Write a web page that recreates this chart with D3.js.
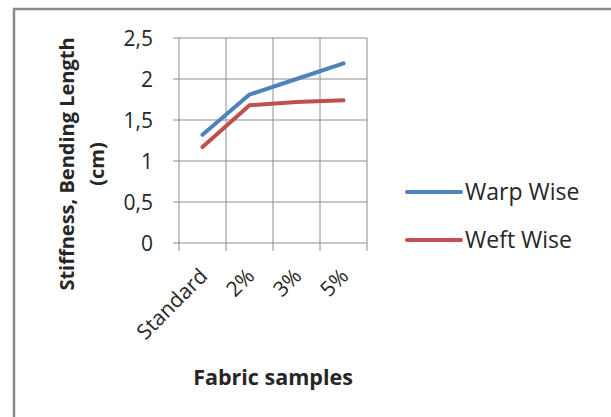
<!DOCTYPE html>
<html><head><meta charset="utf-8">
<script src="https://cdn.jsdelivr.net/npm/d3@7"></script>
<style>
html,body{margin:0;padding:0;background:#fff;}
svg{display:block;}
text{font-family:"Open Sans","Noto Sans",sans-serif;fill:#262626;}
</style></head>
<body>
<svg id="c" width="611" height="417"></svg>
<script>
const categories = ["Standard", "2%", "3%", "5%"];
const warpWise = [1.32, 1.81, 2.0, 2.19];
const weftWise = [1.17, 1.68, 1.72, 1.74];
const yTicks = [0, 0.5, 1, 1.5, 2, 2.5];
const yTickLabels = ["0", "0,5", "1", "1,5", "2", "2,5"];
const seriesNames = ["Warp Wise", "Weft Wise"];
const seriesColors = ["#4F81BD", "#C0504D"];

(function(){
const svg = d3.select("#c");
svg.append("path").attr("d","M14,418 L14,9 L612,9").attr("fill","none")
  .attr("stroke","#8a8a8a").attr("stroke-width",2.5);

const pL=179, pR=367, pT=38, pB=243;
const x = d3.scaleBand().domain(categories).range([pL,pR]);
const y = d3.scaleLinear().domain([0,2.5]).range([pB,pT]);

const g = svg.append("g");
g.selectAll("line.hg").data(yTicks).join("line")
  .attr("x1",pL-6).attr("x2",pR).attr("y1",d=>y(d)).attr("y2",d=>y(d))
  .attr("stroke","#8c8c8c").attr("stroke-width",1);
const edges = categories.map(c=>x(c)).concat([pR]);
g.selectAll("line.vg").data(edges).join("line")
  .attr("x1",d=>d).attr("x2",d=>d).attr("y1",pT).attr("y2",pB+8)
  .attr("stroke","#8c8c8c").attr("stroke-width",1);

g.selectAll("text.yt").data(yTicks).join("text")
  .attr("x",153).attr("y",d=>y(d)).attr("dy","0.36em")
  .attr("text-anchor","end").style("font-size","21px")
  .text((d,i)=>yTickLabels[i]);

g.selectAll("text.xt").data(categories).join("text")
  .attr("transform",d=>`translate(${x(d)+x.bandwidth()/2+1},${pB+29}) rotate(-45)`)
  .attr("text-anchor","end").attr("dy","0.36em").style("font-size","21px")
  .text(d=>d);

const line = d3.line().x((d,i)=>x(categories[i])+x.bandwidth()/2).y(d=>y(d));
[warpWise, weftWise].forEach((s,k)=>{
  g.append("path").datum(s).attr("d",line).attr("fill","none")
   .attr("stroke",seriesColors[k]).attr("stroke-width",4)
   .attr("stroke-linejoin","round").attr("stroke-linecap","round");
});

const yt = svg.append("text").attr("transform","translate(74,164) rotate(-90)")
  .attr("text-anchor","middle").style("font-size","20px").style("font-weight","bold");
yt.append("tspan").attr("x",0).attr("dy",0).text("Stiffness, Bending Length");
yt.append("tspan").attr("x",0).attr("dy","30px").text("(cm)");

svg.append("text").attr("x",273).attr("y",385).attr("text-anchor","middle")
  .style("font-size","21.5px").style("font-weight","bold").text("Fabric samples");

const lg = svg.append("g");
seriesNames.forEach((n,i)=>{
  const ly = 192 + i*48;
  lg.append("line").attr("x1",407).attr("x2",461).attr("y1",ly).attr("y2",ly)
    .attr("stroke",seriesColors[i]).attr("stroke-width",4).attr("stroke-linecap","round");
  lg.append("text").attr("x",465).attr("y",ly).attr("dy","0.36em")
    .style("font-size","23px").text(n);
});
})();
</script>
</body></html>
